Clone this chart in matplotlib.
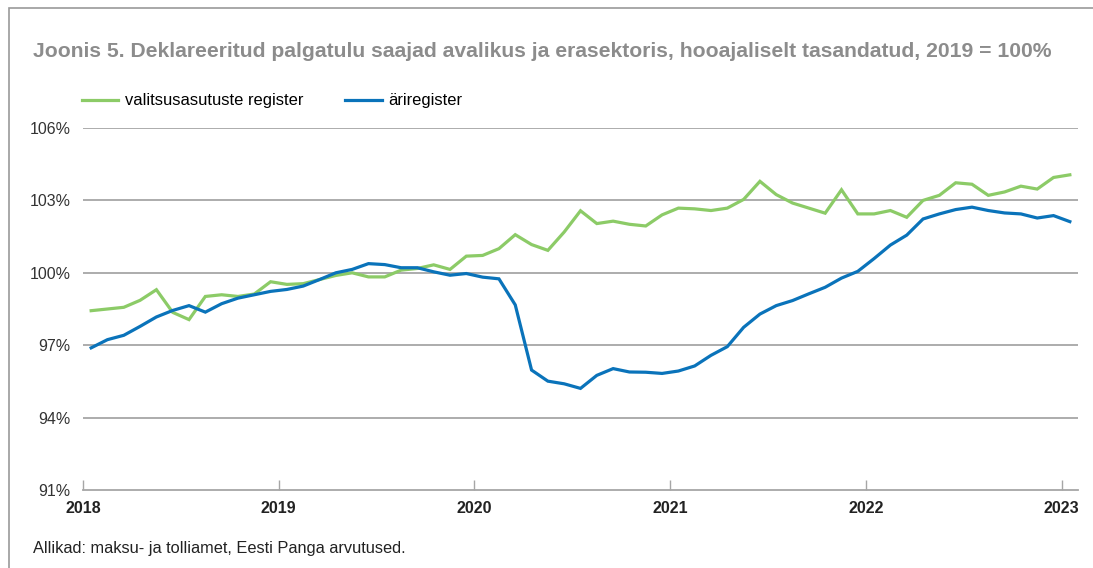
import numpy as np
import matplotlib.pyplot as plt
from matplotlib.patches import Rectangle

plt.rcParams['font.family'] = ['Liberation Sans', 'DejaVu Sans']

# kuuandmed jaanuar 2018 ... jaanuar 2023
valitsus = [98.43, 98.50, 98.57, 98.86, 99.30, 98.36, 98.06, 99.02, 99.09, 99.02,
            99.12, 99.63, 99.52, 99.55, 99.72, 99.89, 100.00, 99.83, 99.83, 100.11,
            100.18, 100.33, 100.14, 100.69, 100.72, 101.00, 101.58, 101.17, 100.93, 101.69,
            102.57, 102.04, 102.14, 102.01, 101.94, 102.40, 102.68, 102.65, 102.58, 102.68,
            103.04, 103.79, 103.24, 102.89, 102.68, 102.47, 103.44, 102.44, 102.44, 102.58,
            102.30, 103.00, 103.21, 103.73, 103.67, 103.21, 103.35, 103.59, 103.47, 103.95,
            104.06]
ari = [96.89, 97.23, 97.41, 97.78, 98.17, 98.44, 98.64, 98.37, 98.72, 98.95,
       99.09, 99.23, 99.31, 99.45, 99.72, 100.00, 100.14, 100.38, 100.34, 100.21,
       100.21, 100.04, 99.90, 99.97, 99.82, 99.75, 98.67, 95.97, 95.51, 95.40,
       95.21, 95.75, 96.03, 95.89, 95.88, 95.83, 95.93, 96.14, 96.58, 96.94,
       97.74, 98.29, 98.64, 98.85, 99.13, 99.40, 99.78, 100.06, 100.59, 101.15,
       101.56, 102.23, 102.44, 102.62, 102.72, 102.58, 102.48, 102.44, 102.27, 102.37,
       102.12]
aastad = ['2018', '2019', '2020', '2021', '2022', '2023']
y_ticks = [91, 94, 97, 100, 103, 106]

ROHELINE = '#8ccb67'
SININE = '#0a73ba'
HALL = '#a6a6a6'

fig = plt.figure(figsize=(10.93, 5.68), dpi=100)
W, H = 1093, 568

# raam ümber joonise
fig.patches.append(Rectangle((9 / W, -0.1), 1.2, 1 - 8 / H + 0.1,
                             transform=fig.transFigure, fill=False,
                             edgecolor='#9a9a9a', lw=1.2))

ax = fig.add_axes([83 / W, 1 - 490 / H, (1078 - 83) / W, (490 - 128) / H])

x = np.arange(len(valitsus)) + 0.5
ax.plot(x, valitsus, color=ROHELINE, lw=2.3, label='valitsusasutuste register',
        solid_joinstyle='miter')
ax.plot(x, ari, color=SININE, lw=2.3, label='äriregister', solid_joinstyle='miter')

ax.set_xlim(0, 61)
ax.set_ylim(91, 106)
for v in y_ticks[1:]:
    ax.axhline(v, color=HALL, lw=1.3, zorder=0)
ax.set_yticks(y_ticks)
ax.set_yticklabels([f'{v}%' for v in y_ticks])
ax.tick_params(axis='y', length=0, pad=9, labelsize=11.5, labelcolor='#333333')

ax.set_xticks(np.arange(0, 61, 12))
ax.set_xticklabels(aastad, fontweight='bold')
ax.tick_params(axis='x', direction='in', length=7, width=1, color=HALL,
               pad=8, labelsize=11.5, labelcolor='#222222')

for s in ['top', 'right', 'left']:
    ax.spines[s].set_visible(False)
ax.spines['bottom'].set_color(HALL)
ax.spines['bottom'].set_linewidth(1.3)

fig.text(33 / W, 1 - 57 / H,
         'Joonis 5. Deklareeritud palgatulu saajad avalikus ja erasektoris, '
         'hooajaliselt tasandatud, 2019 = 100%',
         fontsize=15.2, fontweight='bold', color='#8c8c8c', va='baseline')

ax.legend(loc='center left', bbox_to_anchor=(-0.008, 1 + 27 / 362),
          ncol=2, frameon=False, fontsize=11.9, handlelength=2.2, handletextpad=0.4,
          columnspacing=2.55, borderaxespad=0)

fig.text(33 / W, 1 - 553 / H, 'Allikad: maksu- ja tolliamet, Eesti Panga arvutused.',
         fontsize=11.8, color='#222222', va='baseline')

fig.savefig('out.png', dpi=100)
